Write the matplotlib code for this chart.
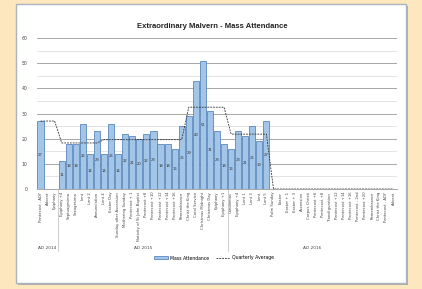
import numpy as np
import matplotlib.pyplot as plt
from matplotlib.patches import Rectangle
from matplotlib.transforms import blended_transform_factory

categories = [
    "Pentecost - ADY", "Advent", "Epiphany",
    "Epiphany +4", "Septuagesima", "Sexagesima", "Lent", "Lent 2", "Annunciation",
    "Lent 4", "Easter Day", "Sunday after Ascension", "Mothering Sunday",
    "Pentecost + 1", "Nativity of St John Baptist", "Pentecost +8",
    "Pentecost +10", "Pentecost +12", "Pentecost +14", "Pentecost +16",
    "Remembrance", "Christ the King", "Carol Service", "Christmas Midnight",
    "Christmas Day", "Epiphany", "Epiphany +1",
    "Candlemas", "Epiphany +4", "Lent 1", "Lent 3", "Lent", "Lent 5",
    "Palm Sunday", "Easter", "Easter + 1", "Easter + 3", "Ascension",
    "Corpus Christi", "Pentecost +6", "Pentecost +8", "Transfiguration",
    "Pentecost +12", "Pentecost +14", "Pentecost +16", "Pentecost - 2nd",
    "Pentecost +20", "Remembrance", "Christ the King", "Pentecost - ADY", "Advent",
]
attendance = [27, None, None,
              11, 18, 18, 26, 14, 23,
              14, 26, 14, 22, 21, 20, 22, 23, 18, 18, 16, 25,
              29, 43, 51, 31, 23, 18,
              16, 23, 21, 25, 19, 27] + [None] * 18
quarterly_avg = [27] * 3 + [18.3] * 6 + [19.6] * 12 + [32.5] * 6 + [21.8] * 6 + [0] * 18
groups = ["AD 2014", "AD 2015", "AD 2016"]
group_sizes = [3, 24, 24]

W, H = 422, 289
fig = plt.figure(figsize=(W / 100, H / 100), dpi=100)
fig.patch.set_facecolor('#fde7bf')

# card with shadow
fig.patches.append(Rectangle((18 / W, 1 - 285 / H), 390 / W, 279 / H,
                             transform=fig.transFigure, facecolor='#999999',
                             edgecolor='none', alpha=0.7, zorder=-2))
fig.patches.append(Rectangle((16 / W, 1 - 283 / H), 390 / W, 279 / H,
                             transform=fig.transFigure, facecolor='white',
                             edgecolor='#aab4be', linewidth=1.0, zorder=-1))

ax = fig.add_axes([37 / W, 1 - 189 / H, 360 / W, 151 / H])
ax.set_zorder(5)
ax.set_facecolor('none')
x = np.arange(len(categories))
vals = np.array([np.nan if v is None else v for v in attendance], dtype=float)

bars = ax.bar(x, np.nan_to_num(vals), width=0.86, color='#a3c6e8',
              edgecolor='#4f7fb8', linewidth=0.55, zorder=2, label='Mass Attendance')
line, = ax.plot(x, quarterly_avg, color='#333333', linestyle=(0, (2.2, 1.2)),
                linewidth=0.6, zorder=3, label='Quarterly Average')

for xi, v in zip(x, vals):
    if not np.isnan(v):
        ax.text(xi, v / 2, f"{int(v)}", ha='center', va='center',
                fontsize=2.7, color='#333333', zorder=4)

ax.set_xlim(-0.5, len(categories) - 0.5)
ax.set_ylim(0, 60)
ax.set_yticks(np.arange(0, 61, 10))
ax.set_yticks(np.arange(5, 60, 10), minor=True)
ax.tick_params(axis='y', which='both', length=0, labelsize=3.3, pad=7,
               labelcolor='#444444')
ax.grid(axis='y', which='major', color='#999999', linewidth=0.6, zorder=0)
ax.grid(axis='y', which='minor', color='#d8d8d8', linewidth=0.5, zorder=0)

ax.set_xticks(x)
ax.set_xticklabels(categories, rotation=90, fontsize=2.7, color='#444444')
ax.tick_params(axis='x', length=0, pad=2)

for s in ['top', 'right', 'left']:
    ax.spines[s].set_visible(False)
ax.spines['bottom'].set_color('#999999')
ax.spines['bottom'].set_linewidth(0.6)

# group labels and separators
tr = blended_transform_factory(ax.transData, ax.transAxes)
start = 0
for i, (g, n) in enumerate(zip(groups, group_sizes)):
    center = start + (n - 1) / 2
    ax.text(center, -0.39, g, transform=tr, ha='center', va='center',
            fontsize=3.1, color='#444444')
    if i > 0:
        ax.plot([start - 0.5, start - 0.5], [0, -0.41], transform=tr,
                color='#bbbbbb', linewidth=0.5, clip_on=False)
    start += n

fig.text(212 / W, 1 - 26 / H, "Extraordinary Malvern - Mass Attendance",
         ha='center', va='center', fontsize=5.5, fontweight='bold',
         color='#222222', family='Liberation Sans')

fig.legend(handles=[bars, line], loc='center',
           bbox_to_anchor=(214 / W, 1 - 258 / H), ncol=2, fontsize=3.3,
           frameon=False, handlelength=3.0, handleheight=0.6, columnspacing=1.5,
           handletextpad=0.5)

fig.savefig('out.png', dpi=100, facecolor=fig.get_facecolor())
